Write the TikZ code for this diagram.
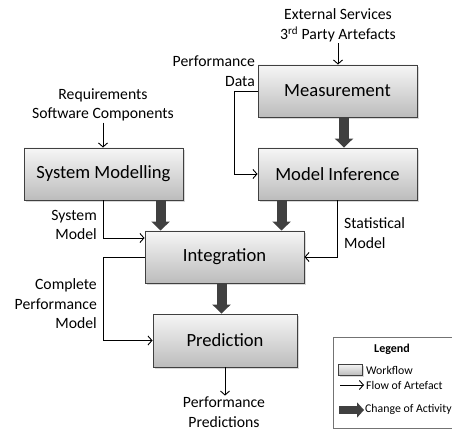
\documentclass[tikz,border=0pt]{standalone}
\usepackage{fontspec}
\setmainfont{Carlito}
\usetikzlibrary{arrows.meta, positioning, calc, shadows}

\definecolor{boxline}{HTML}{404040}
\definecolor{boxtop}{HTML}{F6F6F6}
\definecolor{boxbot}{HTML}{BCBCBC}

\begin{document}
\begin{tikzpicture}[
  x=1pt, y=-1pt,
  stage/.style={rectangle, draw=boxline, line width=0.9pt, top color=boxtop, bottom color=boxbot,
                drop shadow={shadow xshift=2pt, shadow yshift=-2pt, fill=black!30},
                minimum width=159pt, minimum height=52pt, font=\fontsize{18.6}{22}\selectfont},
  lbl/.style={align=center, inner sep=1pt, font=\fontsize{15.7}{19.5}\selectfont},
  artefact/.style={draw=black, line width=0.9pt, -{Straight Barb[length=4pt, width=9pt]}},
  change/.style={draw=boxline, line width=10pt, -{Triangle[length=9pt, width=18pt]}},
  legtxt/.style={anchor=west, inner sep=0pt, font=\fontsize{11.8}{14}\selectfont},
]
\useasboundingbox (0,0) rectangle (452,430);

% ---- inputs ----
\node[lbl] (ext) at (338,25.5) {External Services\\3\textsuperscript{rd} Party Artefacts};
\node[lbl] (req) at (103,105) {Requirements\\Software Components};

% ---- activities ----
\node[stage] (meas) at (337.5,91) {Measurement};
\node[stage] (infer) at (337.5,174) {Model Inference};
\node[stage] (sysmod) at (103.5,174) {System Modelling};
\node[stage] (integ) at (224.5,257) {Integration};
\node[stage, minimum width=144pt, minimum height=53pt] (pred) at (225,340.5) {Prediction};

% ---- change of activity ----
\draw[change] ([xshift=6.5pt]meas.south) -- ([xshift=6.5pt]infer.north);
\draw[change] ([xshift=16pt]integ.north west |- sysmod.south) -- ([xshift=16pt]integ.north west);
\draw[change] ([xshift=137pt]integ.north west |- infer.south) -- ([xshift=137pt]integ.north west);
\draw[change] ([xshift=-3pt]integ.south) -- ([xshift=-3pt]integ.south |- pred.north);

% ---- flow of artefacts ----
\draw[artefact] (ext.south) -- (ext.south |- meas.north);
\draw[artefact] (req.south) -- (req.south |- sysmod.north);
\draw[artefact] (meas.west) -- ++(-23,0) |- (infer.west);
\node[lbl, anchor=east, align=right] (pdata) at (256,71) {Performance\\Data};
\draw[artefact] (sysmod.south) |- ([yshift=19pt]integ.west);
\node[lbl, anchor=east, align=right] (smodel) at (98,225) {System\\Model};
\draw[artefact] (infer.south) |- (integ.east);
\node[lbl, anchor=west, align=left] (stmodel) at (343,233) {Statistical\\Model};
\draw[artefact] (integ.west) -- ++(-41,0) |- (pred.west);
\node[lbl, anchor=east, align=right] (cpm) at (98,304) {Complete\\Performance\\Model};
\node[lbl] (out) at (224,412) {Performance\\Predictions};
\draw[artefact] (pred.south) -- (pred.south |- out.north);

% ---- legend ----
\draw[draw=black!55, line width=0.8pt] (452,337) -- (333,337) -- (333,428) -- (452,428);
\node[font=\fontsize{12}{14}\selectfont\bfseries] (legtitle) at (392,349) {Legend};
\node[stage, minimum width=24pt, minimum height=11pt, line width=0.8pt,
      drop shadow={shadow xshift=1pt, shadow yshift=-1pt, fill=black!30}] (legwf) at (350,369.5) {};
\node[legtxt] (legwft) at (366,370) {Workflow};
\coordinate (fa1) at (340,385);
\coordinate (fa2) at (364,385);
\draw[artefact] (fa1) -- (fa2);
\node[legtxt] (legfat) at (366,385) {Flow of Artefact};
\coordinate (ca1) at (339,410);
\coordinate (ca2) at (364,410);
\draw[change, line width=8pt, -{Triangle[length=7pt, width=15pt]}] (ca1) -- (ca2);
\node[legtxt] (legcat) at (365,409) {Change of Activity};

\end{tikzpicture}
\end{document}
